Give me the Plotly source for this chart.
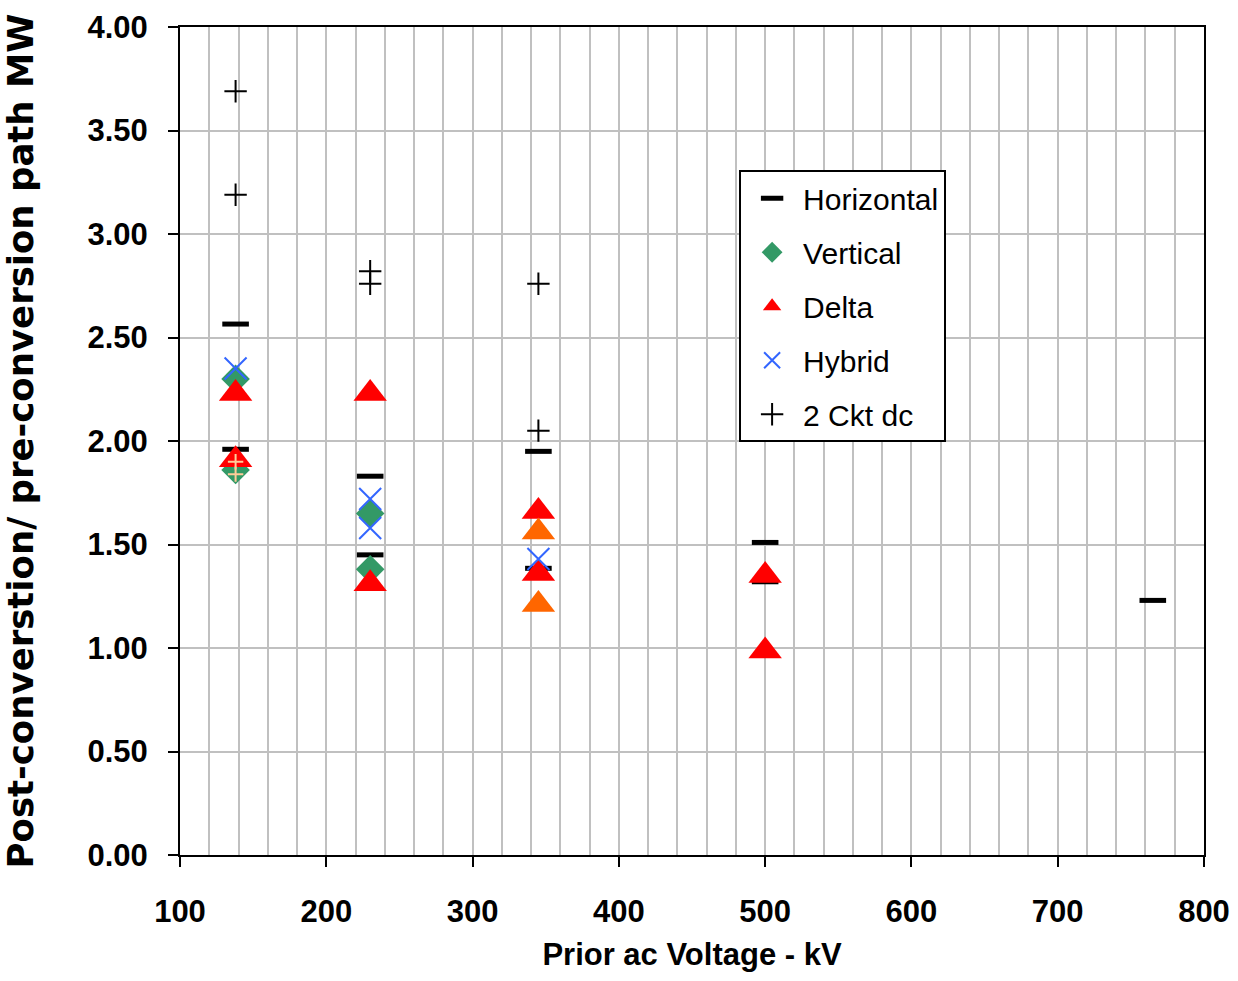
import plotly.graph_objects as go

# Data
horiz_x = [138, 138, 230, 230, 345, 345, 500, 500, 765]
horiz_y = [2.565, 1.96, 1.83, 1.45, 1.95, 1.385, 1.51, 1.32, 1.23]

vert_x = [138, 138, 230, 230]
vert_y = [2.30, 1.86, 1.65, 1.38]

delta_x = [138, 138, 230, 230, 345, 345, 500, 500]
delta_y = [2.23, 1.91, 2.23, 1.31, 1.66, 1.36, 1.35, 0.985]

delta2_x = [345, 345]
delta2_y = [1.56, 1.21]

hybrid_x = [138, 230, 230, 345]
hybrid_y = [2.35, 1.72, 1.58, 1.43]

ckt_x = [138, 138, 230, 230, 345, 345]
ckt_y = [3.69, 3.19, 2.82, 2.76, 2.76, 2.05]

ckt2_x = [138, 138]
ckt2_y = [1.90, 1.84]

x_ticks = [100, 200, 300, 400, 500, 600, 700, 800]
y_ticks = [0.0, 0.5, 1.0, 1.5, 2.0, 2.5, 3.0, 3.5, 4.0]

BOLD = "Liberation Sans, Arial, sans-serif"

fig = go.Figure()

fig.add_trace(go.Scatter(x=horiz_x, y=horiz_y, mode="markers", name="Horizontal",
                         legendgroup="g1",
                         marker=dict(symbol="line-ew", size=19, color="black",
                                     line=dict(color="black", width=5))))
fig.add_trace(go.Scatter(x=vert_x, y=vert_y, mode="markers", name="Vertical",
                         legendgroup="g2",
                         marker=dict(symbol="diamond", size=22, color="#339966",
                                     line=dict(width=0))))
fig.add_trace(go.Scatter(x=delta_x, y=delta_y, mode="markers", name="Delta",
                         legendgroup="g3",
                         marker=dict(symbol="triangle-up", size=29, color="#FF0000",
                                     line=dict(width=0))))
fig.add_trace(go.Scatter(x=delta2_x, y=delta2_y, mode="markers", name="Delta 2",
                         showlegend=False, legendgroup="g3",
                         marker=dict(symbol="triangle-up", size=29, color="#FF6600",
                                     line=dict(width=0))))
fig.add_trace(go.Scatter(x=hybrid_x, y=hybrid_y, mode="markers", name="Hybrid",
                         legendgroup="g4",
                         marker=dict(symbol="x-thin", size=22, color="#3366FF",
                                     line=dict(color="#3366FF", width=2))))
fig.add_trace(go.Scatter(x=ckt_x, y=ckt_y, mode="markers", name="2 Ckt dc",
                         legendgroup="g5",
                         marker=dict(symbol="cross-thin", size=16, color="black",
                                     line=dict(color="black", width=2))))
fig.add_trace(go.Scatter(x=ckt2_x, y=ckt2_y, mode="markers", name="2 Ckt dc b",
                         showlegend=False, legendgroup="g5",
                         marker=dict(symbol="cross-thin", size=11, color="#FFCC99",
                                     line=dict(color="#FFCC99", width=2))))

fig.update_layout(
    width=1238, height=981,
    margin=dict(l=180, r=34, t=27, b=126),
    paper_bgcolor="white", plot_bgcolor="white",
    showlegend=True,
    legend=dict(x=0.546, y=0.827, xanchor="left", yanchor="top",
                bgcolor="white", bordercolor="black", borderwidth=2,
                font=dict(family=BOLD, size=30, color="black"),
                itemsizing="trace", tracegroupgap=12, itemwidth=52,
                traceorder="grouped"),
    xaxis=dict(range=[99.999, 800.001], tickvals=x_ticks, ticktext=[str(v) for v in x_ticks],
               showgrid=False, automargin=False,
               minor=dict(dtick=20, tick0=100, showgrid=True, gridcolor="#C0C0C0",
                          gridwidth=2, ticks=""),
               ticks="outside", ticklen=10, tickwidth=2, tickcolor="black",
               ticklabelstandoff=18,
               showline=True, linecolor="black", linewidth=2, mirror=True,
               tickfont=dict(family=BOLD, size=31, color="black", weight="bold"),
               title=dict(text="Prior ac Voltage - kV", standoff=15,
                          font=dict(family=BOLD, size=31, color="black", weight="bold")),
               zeroline=False),
    yaxis=dict(range=[0, 4.0001], tickvals=y_ticks, ticktext=[f"{v:.2f}" for v in y_ticks],
               showgrid=True, gridcolor="#C0C0C0", gridwidth=2, automargin=False,
               ticks="outside", ticklen=10, tickwidth=2, tickcolor="black",
               ticklabelstandoff=14,
               showline=True, linecolor="black", linewidth=2, mirror=True,
               tickfont=dict(family=BOLD, size=31, color="black", weight="bold"),
               title=dict(text="Post-converstion/ pre-conversion path MW", standoff=66,
                          font=dict(family="DejaVu Sans, sans-serif", size=35.5,
                                    color="black", weight="bold")),
               zeroline=False),
)

fig.write_html("out.html", post_script="document.body.style.margin='0px';",
               config={"displayModeBar": False})
